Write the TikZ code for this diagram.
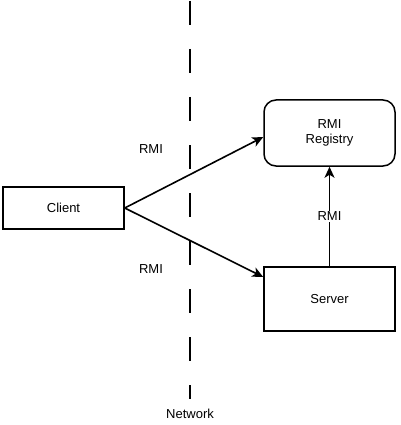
\documentclass[tikz,border=0pt]{standalone}
\usepackage{fontspec}
\setmainfont{Liberation Sans}
\usetikzlibrary{arrows.meta}
\begin{document}
\begin{tikzpicture}[x=1pt,y=-1pt,
  box/.style={draw, line width=1.5pt, minimum width=131pt, inner sep=0pt, font=\fontsize{13}{15.5}\selectfont, align=center},
  conn/.style={line width=1.6pt, -{Stealth[length=11pt,width=10pt,inset=3pt]}},
  lbl/.style={font=\fontsize{13}{15}\selectfont, inner sep=1pt},
  netline/.style={line width=1.6pt, dash pattern=on 24pt off 24pt}]
\useasboundingbox (0,0) rectangle (400,425);
\fill[white] (0,0) rectangle (400,425);
\coordinate (ntop) at (190,1);
\coordinate (nbot) at (190,399);
\draw[netline] (ntop) -- (nbot);
\node[lbl] (net) at (190,414) {Network};
\node[box, minimum width=121pt, minimum height=42pt] (client) at (63.5,208) {Client};
\node[box, minimum height=66pt, rounded corners=12pt] (reg) at (329.5,133) {RMI\\Registry};
\node[box, minimum height=64pt] (server) at (329.5,299) {Server};
\draw[conn] (client.east) -- (reg.west |- 0,137);
\draw[conn] (client.east) -- (server.west |- 0,277);
\draw[conn] (server.north) -- node[lbl, fill=white, pos=0.5] (r3) {RMI} (reg.south);
\node[lbl] (r1) at (151,149) {RMI};
\node[lbl] (r2) at (151,269) {RMI};
\end{tikzpicture}
\end{document}
